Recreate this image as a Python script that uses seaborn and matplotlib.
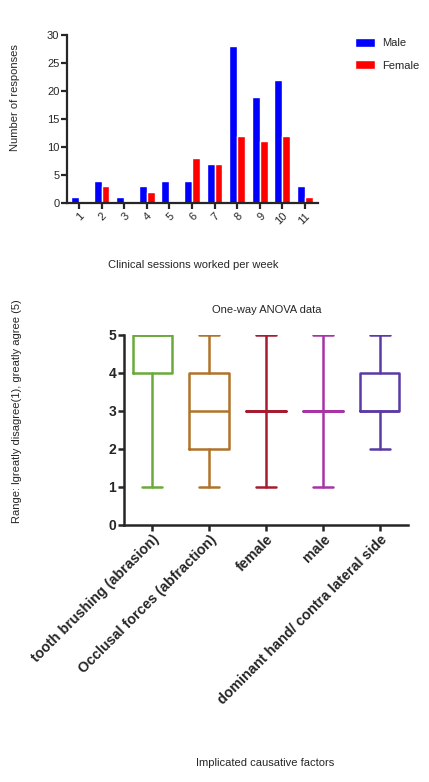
import pandas as pd
import matplotlib
matplotlib.use("Agg")
import matplotlib.pyplot as plt
import seaborn as sns

# top chart: clinical sessions per week
sessions = ["1", "2", "3", "4", "5", "6", "7", "8", "9", "10", "11"]
male_counts = [1, 4, 1, 3, 4, 4, 7, 28, 19, 22, 3]
female_counts = [0, 3, 0, 2, 0, 8, 7, 12, 11, 12, 1]

# bottom chart: box summary (min, q1, median, q3, max)
factors = ["tooth brushing (abrasion)", "Occlusal forces (abfraction)",
           "female", "male", "dominant hand/ contra lateral side"]
f_min = [1, 1, 1, 1, 2]
f_q1 = [4, 2, 3, 3, 3]
f_med = [5, 3, 3, 3, 3]
f_q3 = [5, 4, 3, 3, 4]
f_max = [5, 5, 5, 5, 5]
box_colors = ["#6aaa3a", "#b0732a", "#a51c30", "#a832a8", "#5b3aa6"]

sns.set_style("ticks")
plt.rcParams['font.family'] = ['Liberation Sans', 'DejaVu Sans']

fig = plt.figure(figsize=(4.29, 7.82), dpi=100)
W, H = 429, 782

def px_axes(left, top, right, bottom):
    return fig.add_axes([left / W, 1 - bottom / H, (right - left) / W, (bottom - top) / H])

# ---- bar chart ----
ax1 = px_axes(67, 35, 318, 203)
df = pd.DataFrame({
    "session": sessions * 2,
    "sex": ["Male"] * len(sessions) + ["Female"] * len(sessions),
    "count": male_counts + female_counts,
})
sns.barplot(data=df, x="session", y="count", hue="sex", order=sessions,
            hue_order=["Male", "Female"], palette={"Male": "#0000ff", "Female": "#ff0000"},
            width=0.7, saturation=1, ax=ax1, legend=True)
ax1.set_xlim(-0.53, 10.58)
ax1.set_ylim(0, 30)
ax1.set_yticks(range(0, 31, 5))
ax1.set_xlabel("")
ax1.set_ylabel("")
for s in ["top", "right"]:
    ax1.spines[s].set_visible(False)
for s in ["left", "bottom"]:
    ax1.spines[s].set_linewidth(1.6)
ax1.tick_params(axis="both", width=1.6, length=4, labelsize=8, pad=1.5)
plt.setp(ax1.get_xticklabels(), rotation=45, ha="right", va="top", rotation_mode="anchor")
handles, labels = ax1.get_legend_handles_labels()
ax1.legend(handles, labels, loc="upper left", bbox_to_anchor=(355 / W, 1 - 38 / H),
           bbox_transform=fig.transFigure, frameon=False, fontsize=8,
           borderpad=0, borderaxespad=0,
           handlelength=1.8, handleheight=0.9, labelspacing=1.05, handletextpad=0.6)
fig.text(15 / W, 1 - 98 / H, "Number of responses", rotation=90, ha="center", va="center", fontsize=8)
fig.text(193 / W, 1 - 265 / H, "Clinical sessions worked per week", ha="center", va="center", fontsize=8)

# ---- box chart ----
ax2 = px_axes(124, 335, 408, 525)
stats = []
for i in range(len(factors)):
    stats.append({"whislo": f_min[i], "q1": f_q1[i], "med": f_med[i],
                  "q3": f_q3[i], "whishi": f_max[i], "fliers": [], "label": factors[i]})
for i, st in enumerate(stats):
    c = box_colors[i]
    lp = dict(color=c, linewidth=1.8)
    ax2.bxp([st], positions=[i], widths=0.7, capwidths=0.35, showfliers=False,
            boxprops=lp, whiskerprops=lp, capprops=lp, medianprops=lp)
ax2.set_xlim(-0.5, 4.5)
ax2.set_ylim(0, 5)
ax2.set_yticks(range(0, 6))
ax2.set_xticks(range(len(factors)))
ax2.set_xticklabels(factors, rotation=45, ha="right", va="top", rotation_mode="anchor",
                    fontsize=10.3, fontweight="bold")
for lab in ax2.get_yticklabels():
    lab.set_fontweight("bold")
ax2.tick_params(axis="y", labelsize=10)
ax2.tick_params(axis="both", width=1.8, length=4, pad=1.5)
for s in ["top", "right"]:
    ax2.spines[s].set_visible(False)
for s in ["left", "bottom"]:
    ax2.spines[s].set_linewidth(1.8)
ax2.spines["left"].set_bounds(0, 5)
fig.text(267 / W, 1 - 310 / H, "One-way ANOVA data", ha="center", va="center", fontsize=8)
fig.text(17 / W, 1 - 411 / H, "Range: lgreatly disagree(1), greatly agree (5)", rotation=90,
         ha="center", va="center", fontsize=8)
fig.text(265 / W, 1 - 763 / H, "Implicated causative factors", ha="center", va="center", fontsize=8)

fig.savefig("out.png", dpi=100)
